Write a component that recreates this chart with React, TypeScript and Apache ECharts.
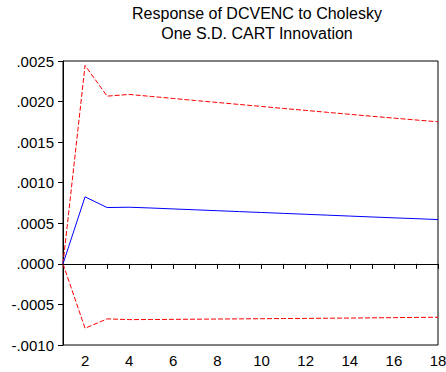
import React, { useEffect, useRef } from "react";
import * as echarts from "echarts";

const periods = [1, 2, 3, 4, 5, 6, 7, 8, 9, 10, 11, 12, 13, 14, 15, 16, 17, 18];
const response = [0, 0.000826, 0.000694, 0.000698, 0.000688, 0.000677, 0.000666, 0.000655, 0.000644, 0.000633, 0.000622, 0.000611, 0.0006, 0.000589, 0.000578, 0.000567, 0.000557, 0.000546];
const upperBand = [0, 0.002445, 0.002067, 0.002088, 0.002063, 0.002038, 0.002013, 0.001989, 0.001964, 0.00194, 0.001915, 0.001891, 0.001867, 0.001843, 0.001819, 0.001796, 0.001773, 0.001751];
const lowerBand = [0, -0.000794, -0.000678, -0.000687, -0.000686, -0.000684, -0.000682, -0.00068, -0.000678, -0.000676, -0.000674, -0.000672, -0.00067, -0.000668, -0.000665, -0.000663, -0.00066, -0.000658];
const titleLines = ["Response of DCVENC to Cholesky", "One S.D. CART Innovation"];

const fmtY = (v: number) => {
  const s = Math.abs(v).toFixed(4).replace(/^0/, "");
  return (v < 0 ? "-" : "") + s;
};

export default function App() {
  const ref = useRef<HTMLDivElement>(null);
  useEffect(() => {
    if (!ref.current) return;
    const chart = echarts.init(ref.current, null, { renderer: "svg" });
    const font = "Liberation Sans, Arial, Helvetica, sans-serif";
    const pair = (arr: number[]) => periods.map((p, i) => [p, arr[i]]);
    chart.setOption({
      animation: false,
      backgroundColor: "#ffffff",
      title: {
        text: titleLines.join("\n"),
        left: 252,
        textAlign: "center",
        top: -2,
        textStyle: { fontFamily: font, fontSize: 16, fontWeight: "normal", color: "#000", lineHeight: 20 },
      },
      grid: {
        left: 63, right: 8, top: 61, bottom: 27,
        outerBoundsMode: "none",
        containLabel: false,
        show: true, borderColor: "#000", borderWidth: 1, backgroundColor: "transparent",
      },
      xAxis: {
        type: "value",
        min: 1,
        max: 18,
        interval: 1,
        axisLine: { show: true, lineStyle: { color: "#000", width: 1 } },
        axisTick: { show: true, length: 5, lineStyle: { color: "#000" } },
        splitLine: { show: false },
        axisLabel: {
          color: "#000",
          fontFamily: font,
          fontSize: 15,
          margin: 8,
          showMinLabel: true,
          showMaxLabel: true,
          alignMaxLabel: "center",
          formatter: (v: number) => (v % 2 === 0 ? String(v) : ""),
        },
      },
      yAxis: {
        type: "value",
        min: -0.001,
        max: 0.0025,
        interval: 0.0005,
        axisLine: { show: true, lineStyle: { color: "#000", width: 1 } },
        axisTick: { show: true, length: 5, lineStyle: { color: "#000" } },
        splitLine: { show: false },
        axisLabel: { color: "#000", fontFamily: font, fontSize: 15, margin: 9, formatter: fmtY },
      },
      series: [
        {
          type: "line",
          data: pair(upperBand),
          symbol: "none",
          lineStyle: { color: "#ff0000", width: 1, type: [5, 2] },
          z: 3,
        },
        {
          type: "line",
          data: pair(lowerBand),
          symbol: "none",
          lineStyle: { color: "#ff0000", width: 1, type: [5, 2] },
          z: 3,
        },
        {
          type: "line",
          data: pair(response),
          symbol: "none",
          lineStyle: { color: "#0000ff", width: 1 },
          z: 4,
          markLine: {
            silent: true,
            symbol: "none",
            label: { show: false },
            lineStyle: { color: "#000", width: 1, type: "solid" },
            data: [{ yAxis: 0 }],
          },
        },
      ],
    });
    return () => chart.dispose();
  }, []);
  return <div ref={ref} style={{ width: 446, height: 372, position: "absolute", left: 0, top: 0 }} />;
}
